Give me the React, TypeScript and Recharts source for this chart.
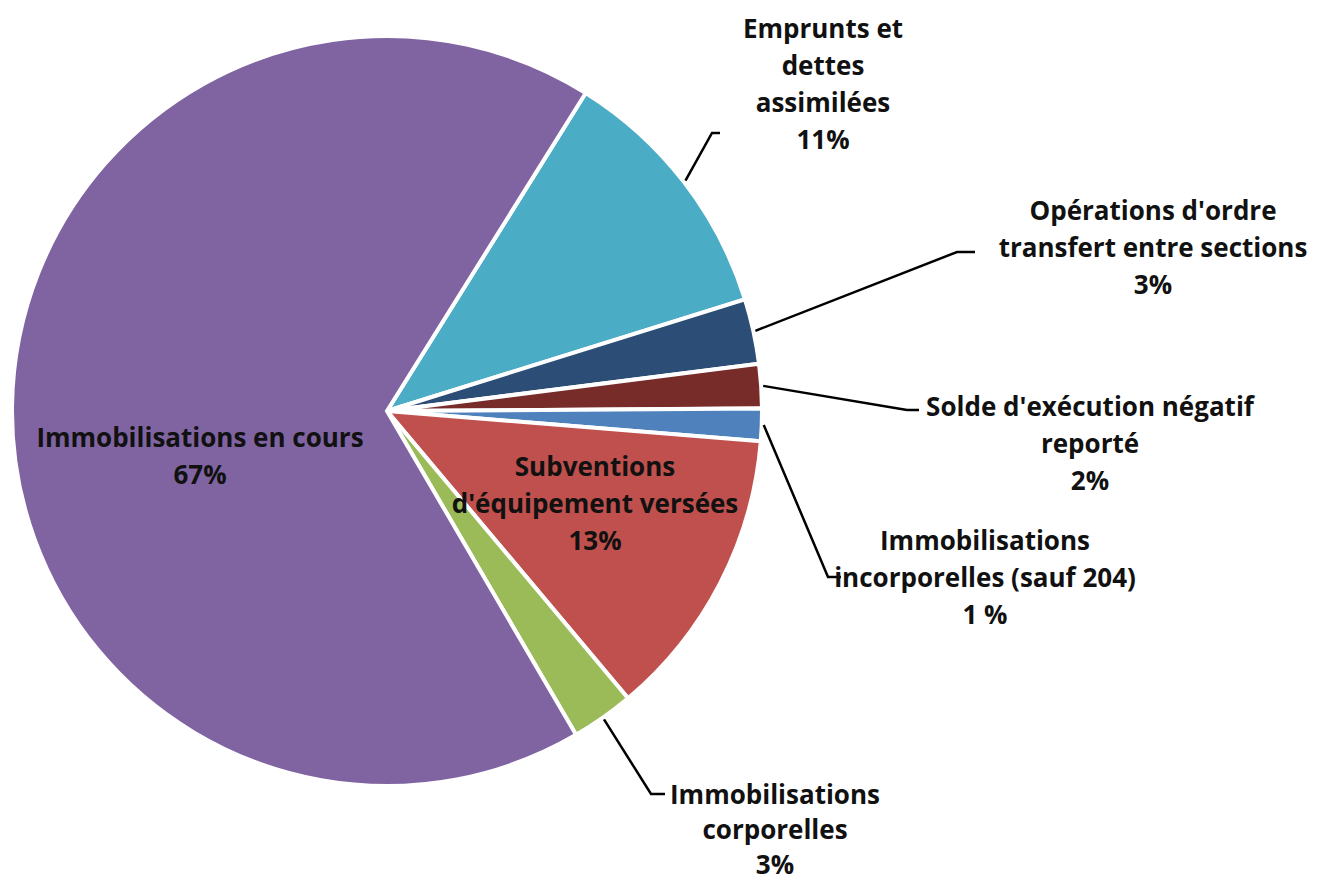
import { PieChart, Pie, Cell } from "recharts";

const categories = [
  "Emprunts et dettes assimilées",
  "Opérations d'ordre transfert entre sections",
  "Solde d'exécution négatif reporté",
  "Immobilisations incorporelles (sauf 204)",
  "Subventions d'équipement versées",
  "Immobilisations corporelles",
  "Immobilisations en cours",
];
const shares = [11.3, 2.8, 1.9, 1.4, 12.6, 2.7, 67.3];
const shareLabels = ["11%", "3%", "2%", "1 %", "13%", "3%", "67%"];
const colors = ["#4BACC6", "#2C4D75", "#772C2A", "#4F81BD", "#C0504D", "#9BBB59", "#8064A2"];

const data = categories.map((name, i) => ({ name, value: shares[i] }));

// label placement, offsets from the pie centre (Excel labels were dragged by hand)
const LABEL_LAYOUT: {
  lines: string[];
  tx: number;
  ty: number;
  lineH?: number;
  elbow?: [number, number];
  tick?: number;
}[] = [
  { lines: ["Emprunts et", "dettes", "assimilées"], tx: 436, ty: -383, elbow: [325, -278], tick: 8 },
  { lines: ["Opérations d'ordre", "transfert entre sections"], tx: 766, ty: -201, elbow: [570, -159], tick: 18 },
  { lines: ["Solde d'exécution négatif", "reporté"], tx: 703, ty: -5, elbow: [520, -1], tick: 12 },
  { lines: ["Immobilisations", "incorporelles (sauf 204)"], tx: 598, ty: 129, elbow: [441, 166], tick: 13 },
  { lines: ["Subventions", "d'équipement versées"], tx: 208, ty: 55 },
  { lines: ["Immobilisations", "corporelles"], tx: 388, ty: 383, lineH: 35, elbow: [264, 383], tick: 14 },
  { lines: ["Immobilisations en cours"], tx: -187, ty: 26 },
];

const RAD = Math.PI / 180;
const LINE_H = 37;

function renderLabel(props: any) {
  const { cx, cy, midAngle, outerRadius, index } = props;
  const lay = LABEL_LAYOUT[index];
  const lines = [...lay.lines, shareLabels[index]];
  const lh = lay.lineH || LINE_H;
  let leader = null;
  if (lay.elbow) {
    const r = outerRadius + 2;
    const sx = cx + r * Math.cos(-midAngle * RAD);
    const sy = cy + r * Math.sin(-midAngle * RAD);
    const ex = cx + lay.elbow[0];
    const ey = cy + lay.elbow[1];
    leader = (
      <path
        d={`M${sx},${sy} L${ex},${ey} L${ex + (lay.tick || 0)},${ey}`}
        stroke="#000"
        strokeWidth={2.5}
        fill="none"
      />
    );
  }
  return (
    <g key={`lbl-${index}`}>
      {leader}
      <text
        x={cx + lay.tx}
        y={cy + lay.ty}
        textAnchor="middle"
        fill="#111"
        style={{ fontFamily: "'Open Sans'", fontWeight: 700, fontSize: 26 }}
      >
        {lines.map((t, i) => (
          <tspan key={i} x={cx + lay.tx} y={cy + lay.ty + i * lh} dominantBaseline="central">
            {t}
          </tspan>
        ))}
      </text>
    </g>
  );
}

export default function App() {
  return (
    <div style={{ width: 1309, height: 877, background: "#fff" }}>
      <PieChart width={1309} height={877} margin={{ top: 0, right: 0, bottom: 0, left: 0 }}>
        <Pie
          data={data}
          dataKey="value"
          nameKey="name"
          cx={379}
          cy={403}
          outerRadius={375}
          startAngle={58}
          endAngle={-302}
          stroke="#fff"
          strokeWidth={4}
          label={renderLabel}
          labelLine={false}
          isAnimationActive={false}
        >
          {data.map((d, i) => (
            <Cell key={d.name} fill={colors[i]} />
          ))}
        </Pie>
      </PieChart>
    </div>
  );
}
